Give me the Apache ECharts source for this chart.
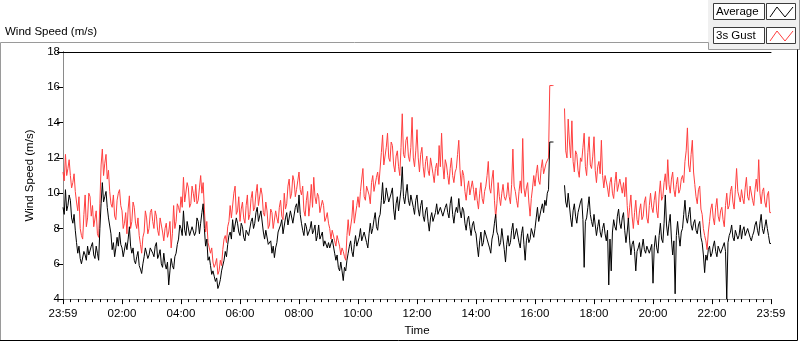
<!DOCTYPE html>
<html>
<head>
<meta charset="utf-8">
<script src="https://cdn.jsdelivr.net/npm/echarts@6/dist/echarts.min.js"></script>
<style>
  html, body { margin: 0; padding: 0; background: #fff; }
  #chart { width: 800px; height: 342px; }
</style>
</head>
<body>
<div id="chart"></div>
<script>
// samples every 2.5 minutes, starting 23:59 (shown as minute 0), one row per hour
const sampleMinutes = 2.5
const tickMinutes = 120

// 3s gust (m/s)
const gustByHour = [
  [11.2, 10.7, 12.2, 11.0, 11.4, 11.9, 11.0, 10.3, 10.6, 11.1, 10.1, 9.5, 9.0, 9.8, 8.0, 7.6, 7.4, 8.8, 9.9, 8.1, 8.6, 10.0, 9.8, 8.7],
  [9.3, 8.1, 8.2, 9.0, 7.7, 7.5, 9.4, 11.6, 12.5, 11.0, 11.7, 12.2, 10.8, 11.3, 10.1, 9.4, 9.2, 9.9, 8.7, 8.5, 9.6, 10.0, 10.2, 9.3],
  [9.0, 8.0, 8.3, 8.9, 7.7, 9.1, 9.85, 8.0, 8.4, 9.5, 9.2, 8.3, 8.0, 8.6, 7.6, 7.1, 6.6, 7.5, 7.8, 9.0, 8.6, 7.7, 8.0, 8.9],
  [9.1, 8.4, 8.0, 9.0, 8.7, 7.9, 7.6, 8.6, 8.5, 7.8, 7.3, 8.0, 8.3, 7.5, 7.8, 8.4, 6.9, 7.7, 9.3, 8.0, 8.4, 9.4, 9.2, 8.9],
  [9.8, 9.2, 10.9, 9.5, 9.6, 10.6, 10.3, 9.2, 9.4, 10.4, 10.0, 9.5, 10.5, 9.4, 9.6, 10.3, 11.0, 10.0, 10.6, 9.1, 7.8, 8.4, 7.2, 6.9],
  [6.6, 6.9, 6.1, 5.8, 6.0, 6.3, 5.4, 5.6, 6.2, 5.9, 6.8, 7.4, 7.6, 7.2, 8.1, 8.4, 9.3, 8.6, 8.7, 10.0, 10.4, 8.8, 9.0, 9.8],
  [8.4, 9.1, 9.5, 8.6, 8.3, 9.3, 9.9, 8.5, 8.8, 9.7, 10.1, 9.0, 9.2, 10.0, 10.5, 9.3, 9.4, 10.3, 9.9, 8.9, 8.7, 9.5, 9.0, 8.0],
  [8.2, 9.1, 8.9, 8.0, 7.9, 9.0, 8.6, 8.3, 9.2, 9.6, 8.7, 8.5, 10.0, 9.1, 9.4, 10.4, 10.8, 9.7, 10.0, 11.0, 10.7, 9.8, 10.2, 10.7],
  [11.2, 10.2, 9.9, 10.4, 9.0, 8.7, 9.6, 10.1, 8.7, 9.4, 10.5, 9.2, 10.9, 9.8, 9.4, 10.0, 9.8, 8.9, 8.8, 9.6, 9.3, 8.4, 8.6, 8.9],
  [8.3, 8.0, 7.4, 7.9, 8.0, 7.3, 7.0, 7.6, 7.3, 7.0, 6.5, 6.9, 6.7, 6.4, 6.2, 7.6, 8.5, 7.6, 7.7, 8.6, 9.6, 8.3, 8.4, 9.3],
  [9.8, 9.2, 10.1, 10.8, 11.4, 9.8, 9.6, 10.4, 10.3, 9.9, 9.4, 10.6, 11.0, 10.1, 10.0, 10.9, 11.2, 10.5, 10.4, 12.3, 13.3, 11.6, 11.7, 12.6],
  [13.4, 12.0, 11.8, 12.9, 12.7, 11.6, 11.2, 12.1, 12.4, 11.5, 11.0, 12.6, 14.5, 12.2, 12.0, 13.0, 13.2, 12.1, 11.8, 12.6, 14.3, 12.0, 11.5, 12.4],
  [13.6, 12.0, 11.2, 12.2, 12.6, 11.5, 10.9, 11.8, 12.1, 11.3, 11.0, 12.0, 11.9, 11.1, 10.6, 11.4, 11.7, 11.0, 12.7, 11.5, 13.4, 11.6, 10.8, 11.9],
  [11.6, 11.0, 10.5, 11.4, 12.0, 11.0, 10.6, 11.2, 11.4, 12.2, 13.0, 11.3, 10.4, 11.3, 11.0, 10.1, 9.6, 10.3, 10.7, 9.9, 9.8, 10.7, 10.2, 9.6],
  [10.3, 9.6, 9.1, 10.0, 10.6, 9.7, 9.4, 10.1, 10.4, 11.0, 11.8, 10.3, 10.0, 10.8, 11.3, 9.6, 8.6, 9.4, 10.6, 9.8, 9.3, 10.0, 10.5, 9.8],
  [9.6, 9.9, 10.6, 9.8, 9.4, 10.5, 12.5, 10.4, 10.1, 9.6, 9.2, 10.1, 10.7, 10.0, 13.1, 10.3, 9.8, 10.3, 10.6, 9.5, 8.7, 9.7, 10.3, 11.0],
  [10.4, 11.1, 11.6, 10.7, 10.5, 11.4, 11.9, 11.1, 11.0, 11.7, 11.8, 12.0, 16.1, 16.1, 16.1, 16.1, null, null, null, null, null, null, null, null],
  [14.8, 12.4, 12.0, 14.2, 12.9, 12.0, 14.1, 11.8, 11.2, 12.4, 12.2, 11.3, 10.9, 12.0, 11.8, 12.6, 13.4, 11.5, 11.0, 12.3, 13.2, 11.6, 11.4, 12.1],
  [13.2, 11.3, 10.6, 11.5, 11.8, 11.1, 13.0, 11.0, 10.3, 11.0, 11.1, 10.3, 9.8, 10.6, 10.9, 10.0, 9.7, 10.6, 11.2, 10.1, 10.2, 10.8, 10.9, 10.0],
  [10.6, 9.8, 10.9, 9.3, 8.4, 9.2, 9.9, 8.7, 8.0, 8.9, 9.6, 8.5, 8.2, 9.0, 9.4, 8.5, 8.7, 9.5, 9.8, 8.6, 8.3, 9.3, 10.0, 9.2],
  [8.9, 9.6, 10.1, 9.0, 8.6, 9.9, 10.7, 9.6, 9.8, 10.6, 11.1, 10.2, 11.9, 10.5, 10.0, 10.8, 11.2, 10.2, 9.8, 10.5, 10.9, 10.0, 10.2, 10.8],
  [11.0, 10.6, 11.8, 12.4, 13.7, 11.6, 11.2, 12.2, 13.0, 11.2, 10.5, 9.8, 9.4, 10.2, 10.4, 9.1, 8.8, 8.0, 7.6, 7.3, 6.8, 7.8, 8.4, 9.1],
  [9.4, 8.6, 8.2, 9.2, 9.7, 8.7, 8.4, 9.0, 9.2, 8.5, 8.1, 9.3, 10.0, 9.1, 9.3, 10.1, 10.4, 9.5, 9.1, 10.2, 11.4, 10.1, 10.0, 9.5],
  [10.2, 9.7, 9.4, 10.3, 10.9, 9.8, 9.6, 10.4, 10.5, 9.6, 9.3, 10.2, 10.8, 10.1, 11.9, 10.0, 9.4, 10.1, 10.3, 9.5, 9.2, 9.9, 10.1, 8.9, 8.9]
]

// average (m/s)
const averageByHour = [
  [9.2, 8.8, 10.2, 9.0, 9.3, 9.9, 9.6, 8.6, 8.3, 8.8, 7.9, 7.2, 6.6, 7.0, 6.3, 6.0, 6.1, 6.7, 6.5, 6.2, 7.0, 6.5, 6.4, 7.0],
  [7.2, 6.5, 6.3, 7.0, 6.6, 6.2, 8.0, 9.4, 10.6, 9.5, 9.8, 10.1, 9.2, 8.6, 8.5, 7.7, 6.8, 7.2, 6.4, 6.9, 7.5, 7.0, 7.8, 7.1],
  [6.9, 6.4, 6.5, 7.2, 6.8, 7.4, 8.1, 7.0, 6.6, 6.9, 6.2, 6.0, 6.4, 6.7, 5.9, 5.7, 5.45, 6.0, 6.4, 6.9, 7.0, 6.3, 6.5, 6.9],
  [7.0, 6.6, 6.4, 7.0, 7.2, 6.3, 6.5, 6.8, 6.0, 5.8, 6.6, 6.0, 5.7, 6.1, 4.8, 5.6, 6.3, 5.9, 5.7, 6.4, 6.6, 7.1, 7.4, 8.2],
  [8.0, 7.6, 9.0, 7.9, 7.6, 8.4, 8.3, 7.6, 7.5, 8.1, 8.2, 7.6, 7.8, 8.6, 8.4, 7.7, 8.3, 8.9, 9.4, 8.0, 7.0, 7.4, 6.2, 6.4],
  [5.9, 5.4, 5.6, 5.3, 5.0, 5.2, 4.6, 4.8, 5.1, 5.6, 5.6, 6.2, 6.7, 6.4, 7.1, 7.6, 7.8, 7.4, 8.5, 7.8, 7.9, 8.6, 8.3, 7.8],
  [7.6, 8.3, 8.1, 7.5, 7.3, 7.9, 8.0, 7.6, 7.7, 8.4, 8.6, 8.0, 8.3, 8.9, 9.2, 8.4, 8.5, 9.0, 8.9, 7.8, 7.4, 7.9, 7.8, 7.1],
  [7.0, 7.3, 6.6, 7.0, 6.35, 6.9, 7.2, 7.8, 7.9, 8.2, 8.5, 7.7, 7.8, 8.6, 8.9, 8.2, 8.3, 9.0, 9.1, 8.3, 8.4, 9.2, 9.4, 8.9],
  [9.9, 8.8, 8.3, 7.9, 7.6, 8.3, 8.1, 7.6, 7.5, 8.0, 8.4, 7.7, 7.9, 8.2, 7.3, 7.6, 8.2, 7.4, 7.5, 7.8, 7.0, 7.3, 7.4, 6.9],
  [7.2, 6.9, 6.8, 7.4, 7.3, 6.6, 6.2, 6.5, 5.8, 5.6, 6.1, 5.6, 5.05, 5.8, 5.6, 6.2, 6.6, 7.0, 7.3, 6.7, 6.4, 7.1, 7.6, 7.0],
  [7.1, 7.5, 8.0, 7.3, 7.2, 7.8, 7.9, 7.2, 6.9, 7.7, 8.3, 7.7, 8.0, 8.5, 8.9, 8.1, 7.9, 8.6, 8.8, 9.6, 10.6, 9.4, 9.6, 10.3],
  [10.2, 9.5, 9.6, 10.0, 10.3, 9.1, 8.5, 9.4, 9.8, 9.0, 9.1, 10.2, 11.5, 9.8, 9.4, 10.0, 10.5, 9.6, 9.3, 9.9, 10.0, 9.2, 8.8, 9.6],
  [9.9, 9.1, 8.7, 9.3, 9.6, 8.7, 8.4, 9.0, 9.2, 8.4, 7.85, 8.6, 8.9, 8.4, 8.3, 8.9, 9.4, 8.8, 8.7, 9.2, 9.3, 8.7, 8.6, 9.2],
  [9.4, 8.9, 8.6, 9.4, 9.8, 8.8, 8.3, 8.9, 9.2, 8.9, 9.7, 9.0, 8.6, 9.2, 9.0, 8.3, 7.9, 8.5, 8.7, 8.1, 7.6, 8.2, 8.4, 7.9],
  [7.7, 7.0, 6.4, 7.3, 7.8, 7.0, 7.2, 7.9, 8.0, 7.4, 7.3, 6.9, 6.6, 7.4, 7.7, 8.3, 8.8, 7.8, 7.6, 7.0, 7.2, 8.0, 7.9, 6.8],
  [6.1, 7.1, 7.6, 7.0, 7.2, 7.9, 8.3, 7.4, 7.5, 8.0, 7.9, 7.2, 6.9, 7.7, 8.1, 7.1, 6.2, 7.3, 7.7, 7.2, 7.4, 8.0, 7.9, 7.5],
  [8.0, 8.6, 9.2, 8.4, 8.4, 9.1, 9.4, 8.9, 9.6, 9.3, 10.0, 10.2, 12.9, 12.9, 12.9, 12.9, null, null, null, null, null, null, null, null],
  [10.45, 9.5, 9.2, 10.0, 9.9, 8.6, 8.1, 9.0, 9.4, 8.7, 8.3, 8.9, 9.0, 9.5, 9.7, 8.5, 5.8, 8.4, 8.6, 9.2, 9.8, 8.8, 8.4, 8.1],
  [8.8, 8.2, 7.6, 8.1, 8.5, 7.8, 7.5, 8.0, 8.3, 7.7, 7.3, 7.9, 4.8, 7.4, 5.6, 7.8, 8.5, 8.1, 7.9, 8.7, 9.1, 8.3, 8.0, 8.6],
  [8.9, 7.9, 7.2, 7.8, 8.6, 7.3, 6.5, 7.1, 7.3, 6.7, 5.6, 6.7, 6.9, 7.2, 6.4, 6.9, 7.4, 6.8, 6.6, 7.0, 7.1, 6.6, 6.5, 7.1],
  [4.9, 6.9, 7.6, 6.9, 6.6, 7.6, 8.3, 7.4, 7.2, 8.3, 9.9, 8.2, 7.6, 8.3, 8.8, 7.4, 6.5, 7.3, 4.3, 7.6, 8.4, 7.6, 7.0, 7.8],
  [8.0, 8.8, 9.6, 8.6, 8.3, 8.8, 9.2, 8.2, 7.9, 8.3, 8.5, 7.9, 7.7, 8.2, 8.4, 7.5, 7.2, 6.5, 5.5, 6.5, 6.2, 6.8, 7.0, 6.4],
  [6.6, 7.0, 7.3, 6.7, 6.4, 7.0, 7.1, 6.6, 6.5, 7.0, 7.2, 6.7, 4.0, 7.2, 7.6, 7.8, 8.2, 7.5, 7.3, 7.9, 8.0, 7.4, 7.6, 8.2],
  [7.4, 7.9, 8.1, 7.6, 7.5, 8.0, 8.0, 7.5, 7.3, 7.6, 7.8, 8.2, 8.4, 7.9, 7.6, 8.3, 8.8, 8.0, 7.7, 8.1, 8.5, 8.0, 7.6, 7.15, 7.15]
]

const seriesNames = ['Average', '3s Gust']
const endLabel = '23:59'

const FONT = 'Liberation Sans, Arial, sans-serif'

function timeLabel(v) {
  if (v === 0 || v === 1440) return endLabel
  const h = Math.floor(v / 60)
  const m = v % 60
  return (h < 10 ? '0' : '') + h + ':' + (m < 10 ? '0' : '') + m
}

function toPoints(rows) {
  const pts = []
  rows.forEach((row, h) => {
    row.forEach((v, k) => pts.push([h * 60 + k * sampleMinutes, v]))
  })
  return pts
}

function legendItem(y, name, color) {
  return [
    {
      type: 'rect', shape: { x: 713.5, y: y + 0.5, width: 51, height: 16 },
      style: { fill: '#fff', stroke: '#3c3c3c', lineWidth: 1 }
    },
    {
      type: 'text', x: 716, y: y + 9,
      style: { text: name, font: '11.5px ' + FONT, fill: '#000', verticalAlign: 'middle' }
    },
    {
      type: 'rect', shape: { x: 766.5, y: y + 0.5, width: 29, height: 16 },
      style: { fill: '#fff', stroke: '#3c3c3c', lineWidth: 1 }
    },
    {
      type: 'polyline',
      shape: { points: [[770, y + 14], [777, y + 4], [785, y + 14], [793, y + 4]] },
      style: { stroke: color, lineWidth: 1, fill: null }
    }
  ]
}

const chart = echarts.init(document.getElementById('chart'))

const option = {
  animation: false,
  backgroundColor: '#fff',
  grid: { left: 63, top: 52, width: 708, height: 251, show: false },
  xAxis: [
    {
      type: 'value', position: 'bottom', min: 0, max: 1440, interval: tickMinutes,
      name: 'Time', nameLocation: 'middle', nameGap: 25,
      nameTextStyle: { fontFamily: FONT, fontSize: 11.5, color: '#000' },
      axisLine: { show: true, lineStyle: { color: '#8a8a8a', width: 1 } },
      axisTick: { show: true, length: 5, lineStyle: { color: '#000' } },
      minorTick: { show: true, splitNumber: 8, length: 3, lineStyle: { color: '#000' } },
      axisLabel: { margin: 9, fontFamily: FONT, fontSize: 11.5, color: '#000', formatter: timeLabel },
      splitLine: { show: false }
    },
    {
      type: 'value', position: 'top', min: 0, max: 1440,
      axisLine: { show: true, lineStyle: { color: '#000', width: 1 } },
      axisTick: { show: false }, axisLabel: { show: false }, splitLine: { show: false }
    }
  ],
  yAxis: [
    {
      type: 'value', position: 'left', min: 4, max: 18, interval: 2,
      name: 'Wind Speed (m/s)', nameLocation: 'middle', nameGap: 24,
      nameTextStyle: { fontFamily: FONT, fontSize: 11.5, color: '#000' },
      axisLine: { show: true, lineStyle: { color: '#000', width: 1 } },
      axisTick: { show: true, length: 6, lineStyle: { color: '#000' } },
      axisLabel: { margin: 3, fontFamily: FONT, fontSize: 11.5, color: '#000' },
      splitLine: { show: false }
    },
    {
      type: 'value', position: 'right', min: 4, max: 18,
      axisLine: { show: true, lineStyle: { color: '#8a8a8a', width: 1 } },
      axisTick: { show: false }, axisLabel: { show: false }, splitLine: { show: false }
    }
  ],
  series: [
    {
      name: seriesNames[1], type: 'line', data: toPoints(gustByHour),
      showSymbol: false, symbol: 'none', connectNulls: false,
      lineStyle: { color: '#ff3f3f', width: 1 }, z: 2
    },
    {
      name: seriesNames[0], type: 'line', data: toPoints(averageByHour),
      showSymbol: false, symbol: 'none', connectNulls: false,
      lineStyle: { color: '#000', width: 1 }, z: 3
    }
  ],
  graphic: [
    // legend panel background
    { type: 'rect', shape: { x: 708, y: 0, width: 92, height: 49 }, style: { fill: '#f0f0f0' }, silent: true },
    // outer frame
    { type: 'polyline', shape: { points: [[0.5, 341], [0.5, 42.5], [708.5, 42.5], [708.5, 49.5], [800, 49.5]] },
      style: { stroke: '#9a9a9a', lineWidth: 1, fill: null } },
    { type: 'polyline', shape: { points: [[0, 340.5], [797.5, 340.5], [797.5, 49.5]] },
      style: { stroke: '#000', lineWidth: 1, fill: null } },
    { type: 'line', shape: { x1: 799.5, y1: 0, x2: 799.5, y2: 49 }, style: { stroke: '#9a9a9a', lineWidth: 1 } },
    // chart title
    { type: 'text', x: 5, y: 26, style: { text: 'Wind Speed (m/s)', font: '11.5px ' + FONT, fill: '#000' } },
    ...legendItem(3, seriesNames[0], '#000'),
    ...legendItem(27, seriesNames[1], '#ff3f3f')
  ]
}

chart.setOption(option)
</script>
</body>
</html>
